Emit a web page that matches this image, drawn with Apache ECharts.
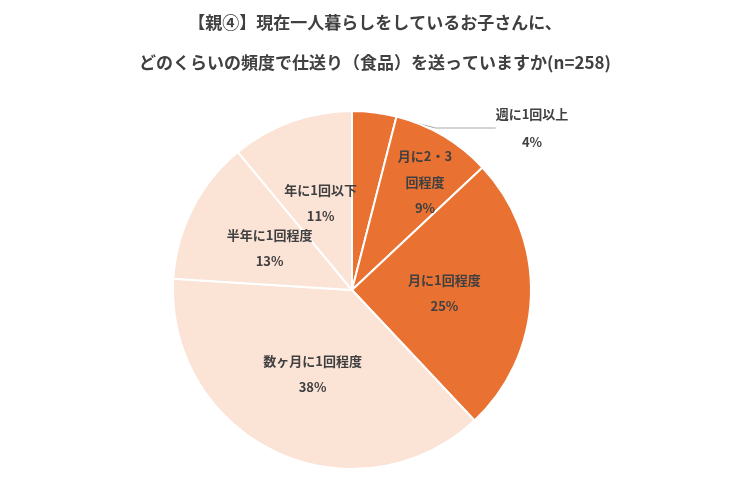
<!DOCTYPE html>
<html><head><meta charset="utf-8">
<script src="https://cdn.jsdelivr.net/npm/echarts@6/dist/echarts.min.js"></script>
<style>html,body{margin:0;background:#fff}#c{width:750px;height:478px}</style>
</head><body><div id="c"></div>
<script>
const categories = ['週に1回以上','月に2・3\n回程度','月に1回程度','数ヶ月に1回程度','半年に1回程度','年に1回以下'];
const values = [4, 9, 25, 38, 13, 11];
const colors = ['#E97132','#E97132','#E97132','#FBE3D6','#FBE3D6','#FBE3D6'];
const chart = echarts.init(document.getElementById('c'));
const font = '"Noto Sans CJK JP", sans-serif';
chart.setOption({
  animation:false,
  title:{text:'【親④】現在一人暮らしをしているお子さんに、\nどのくらいの頻度で仕送り（食品）を送っていますか(n=258)',
    left:'center', top:-2, textStyle:{fontFamily:font,fontSize:17,fontWeight:'bold',color:'#404040',lineHeight:40}},
  series:[{type:'pie', center:[352,290], radius:[0,179], startAngle:90, clockwise:true,
    avoidLabelOverlap:false,
    itemStyle:{borderColor:'#fff',borderWidth:2},
    label:{position:'inner', formatter:'{b}\n{c}%', fontFamily:font, fontSize:13, fontWeight:'bold', color:'#404040', lineHeight:26},
    labelLayout:function(p){
      if(p.dataIndex===0) return {x:532,y:128,align:'center',verticalAlign:'middle'};
      if(p.dataIndex===1) return {x:425,y:182,align:'center',verticalAlign:'middle'};
    },
    data: categories.map((n,i)=>{
      const d={name:n,value:values[i],itemStyle:{color:colors[i]}};
      if(i===0){d.label={position:'outside',lineHeight:28};d.labelLine={show:true,length:5,length2:60,lineStyle:{color:'#aaa'}};}
      return d;
    })
  }]
});
</script></body></html>
